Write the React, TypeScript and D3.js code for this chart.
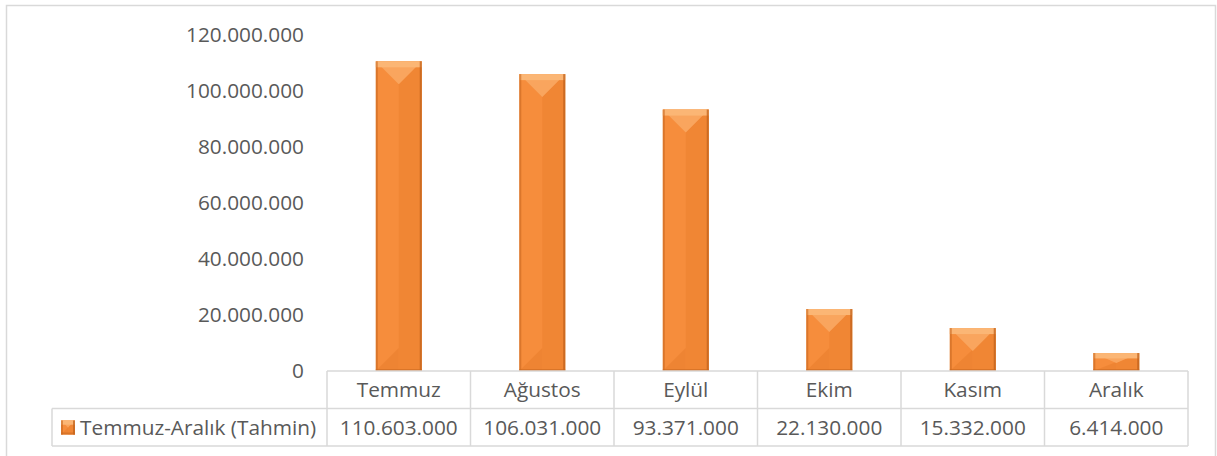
import React from "react";
import * as d3 from "d3";

const categories = ["Temmuz", "Ağustos", "Eylül", "Ekim", "Kasım", "Aralık"];
const values = [110603000, 106031000, 93371000, 22130000, 15332000, 6414000];
const yTicks = [0, 20000000, 40000000, 60000000, 80000000, 100000000, 120000000];
const seriesName = "Temmuz-Aralık (Tahmin)";

const W = 1217;
const H = 456;
const FONT = "'Open Sans', 'Liberation Sans', sans-serif";
const TEXT = "#595959";
const LINE = "#D9D9D9";
const FS = 20.8;

const locale = d3.formatLocale({ decimal: ",", thousands: ".", grouping: [3], currency: ["", ""] });
const fmt = locale.format(",.0f");

function Bar({ x0, x1, y0, yb }: { x0: number; x1: number; y0: number; yb: number }) {
  const w = x1 - x0;
  const h = yb - y0;
  const xc = (x0 + x1) / 2;
  const d = Math.min(w / 2, h * 0.55);
  const strip = Math.min(6, h * 0.3);
  return (
    <g>
      <rect x={x0} y={y0} width={w} height={h} fill="#F68D3C" />
      <polygon points={`${xc},${y0 + d} ${x1},${y0} ${x1},${yb} ${xc},${yb}`} fill="#F08634" />
      <polygon points={`${x0},${yb} ${xc},${yb - Math.min(w / 2, h * 0.5)} ${xc},${yb}`} fill="#EC8231" opacity={0.8} />
      <polygon points={`${x0},${y0} ${x1},${y0} ${xc},${y0 + d}`} fill="#F9A55E" />
      <rect x={x0} y={y0} width={w} height={strip} fill="#FBB675" />
      <rect x={x0} y={y0} width={2} height={h} fill="#C9681F" opacity={0.6} />
      <rect x={x1 - 2} y={y0} width={2} height={h} fill="#C0621C" opacity={0.75} />
      <rect x={x0} y={yb - 2} width={w} height={2} fill="#C9681F" opacity={0.55} />
    </g>
  );
}

export default function App() {
  const plotLeft = 327;
  const plotRight = 1188;
  const y = d3.scaleLinear().domain([0, 120000000]).range([371, 35]);
  const x = d3.scaleBand<string>().domain(categories).range([plotLeft, plotRight]).padding(0);
  const bw = x.bandwidth() * 0.32;
  const rowTop = 371;
  const rowMid = 408.5;
  const rowBot = 446;
  const legendLeft = 52;

  return (
    <svg width={W} height={H} style={{ position: "absolute", left: 0, top: 0, fontFamily: FONT }}>
      <rect x={0} y={0} width={W} height={H} fill="#fff" />
      <rect x={6.5} y={5.5} width={1209} height={470} fill="none" stroke={LINE} strokeWidth={1.5} />
      {yTicks.map((t) => (
        <text key={t} x={304} y={y(t)} dy="0.35em" textAnchor="end" fontSize={FS} fill={TEXT}>
          {fmt(t)}
        </text>
      ))}
      {categories.map((c, i) => {
        const xc = (x(c) as number) + x.bandwidth() / 2;
        return <Bar key={c} x0={xc - bw / 2} x1={xc + bw / 2} y0={y(values[i])} yb={y(0)} />;
      })}
      <line x1={plotLeft} x2={plotRight} y1={rowTop} y2={rowTop} stroke={LINE} strokeWidth={1.5} />
      <line x1={legendLeft} x2={plotRight} y1={rowMid} y2={rowMid} stroke={LINE} strokeWidth={1.5} />
      <line x1={legendLeft} x2={plotRight} y1={rowBot} y2={rowBot} stroke={LINE} strokeWidth={1.5} />
      <line x1={legendLeft} x2={legendLeft} y1={rowMid} y2={rowBot} stroke={LINE} strokeWidth={1.5} />
      {[...categories.map((c) => x(c) as number), plotRight].map((xx, i) => (
        <line key={i} x1={xx} x2={xx} y1={rowTop} y2={rowBot} stroke={LINE} strokeWidth={1.5} />
      ))}
      {categories.map((c, i) => {
        const xc = (x(c) as number) + x.bandwidth() / 2;
        return (
          <g key={c}>
            <text x={xc} y={(rowTop + rowMid) / 2} dy="0.35em" textAnchor="middle" fontSize={FS} fill={TEXT}>
              {c}
            </text>
            <text x={xc} y={(rowMid + rowBot) / 2} dy="0.35em" textAnchor="middle" fontSize={FS} fill={TEXT}>
              {fmt(values[i])}
            </text>
          </g>
        );
      })}
      <Bar x0={61} x1={75} y0={420.5} yb={434.5} />
      <text x={80} y={(rowMid + rowBot) / 2} dy="0.35em" fontSize={FS} fill={TEXT}>
        {seriesName}
      </text>
    </svg>
  );
}
